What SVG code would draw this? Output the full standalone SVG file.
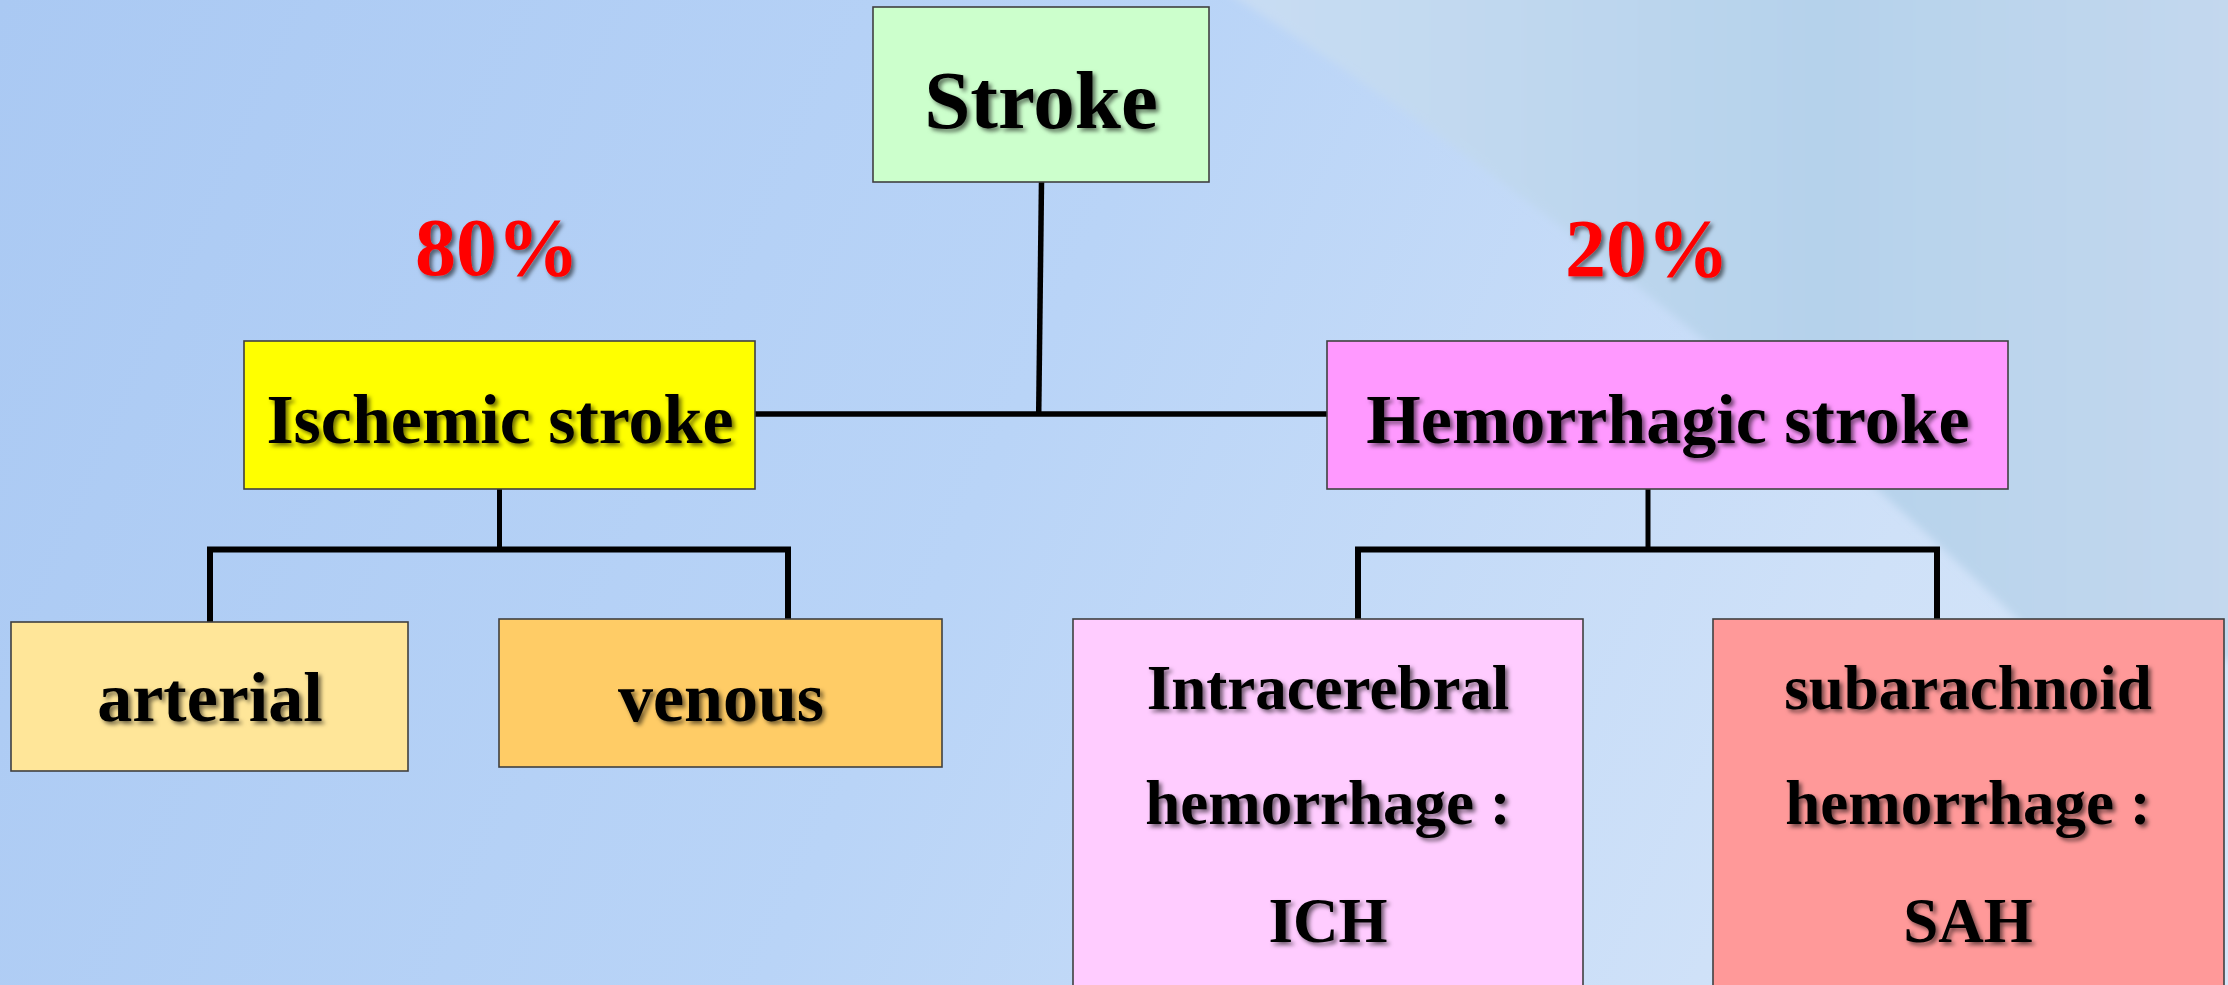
<svg xmlns="http://www.w3.org/2000/svg" width="2228" height="985" viewBox="0 0 2228 985">
  <defs>
    <linearGradient id="bg" x1="0" y1="0" x2="2228" y2="985" gradientUnits="userSpaceOnUse">
      <stop offset="0" stop-color="#aac9f3"/>
      <stop offset="0.45" stop-color="#b9d4f7"/>
      <stop offset="0.8" stop-color="#cfe1f8"/>
      <stop offset="1" stop-color="#d6e6f9"/>
    </linearGradient>
    <linearGradient id="teal" x1="1208" y1="0" x2="2228" y2="0" gradientUnits="userSpaceOnUse">
      <stop offset="0" stop-color="#c9ddf4"/>
      <stop offset="0.3" stop-color="#c0d8ef"/>
      <stop offset="0.6" stop-color="#b5d2eb"/>
      <stop offset="1" stop-color="#c3d8ee"/>
    </linearGradient>
    <filter id="soft" x="-5%" y="-5%" width="110%" height="110%">
      <feGaussianBlur stdDeviation="4"/>
    </filter>
    <filter id="sh" x="-10%" y="-20%" width="130%" height="160%">
      <feDropShadow dx="3" dy="3" stdDeviation="2" flood-color="#000" flood-opacity="0.55"/>
    </filter>
    <style>
      .box { stroke: #404040; stroke-width: 1.6; }
      .t { font-family: "Liberation Serif", "Times New Roman", serif; font-weight: bold; fill: #000; text-anchor: middle; filter: url(#sh); }
      .pct { font-family: "Liberation Serif", "Times New Roman", serif; font-weight: bold; fill: #ff0000; text-anchor: middle; font-size: 82px; filter: url(#sh); }
      .c { stroke: #000; fill: none; stroke-linecap: butt; }
    </style>
  </defs>

  <rect x="0" y="0" width="2228" height="985" fill="url(#bg)"/>
  <path d="M1208,-20 Q1650,260 2060,660 L2260,660 L2260,-20 Z" fill="url(#teal)" filter="url(#soft)"/>

  <g id="connectors">
    <line class="c" x1="1041.5" y1="182" x2="1038.7" y2="414" stroke-width="5.5"/>
    <line class="c" x1="755" y1="414" x2="1327" y2="414" stroke-width="5.5"/>
    <line class="c" x1="499.5" y1="489" x2="499.5" y2="549" stroke-width="5"/>
    <path class="c" d="M210,622 V549.5 H788 V620" stroke-width="6"/>
    <line class="c" x1="1648" y1="489" x2="1648" y2="549" stroke-width="5"/>
    <path class="c" d="M1358,621 V549.5 H1937 V620" stroke-width="6"/>
  </g>

  <g id="node-stroke">
    <rect class="box" x="873" y="7" width="336" height="175" fill="#ccffcc"/>
    <text class="t" x="1041" y="128" font-size="83">Stroke</text>
  </g>

  <g id="label-80">
    <text class="pct" x="497" y="275">80%</text>
  </g>
  <g id="label-20">
    <text class="pct" x="1647" y="276">20%</text>
  </g>

  <g id="node-ischemic">
    <rect class="box" x="244" y="341" width="511" height="148" fill="#ffff00"/>
    <text class="t" x="500" y="443" font-size="70">Ischemic stroke</text>
  </g>

  <g id="node-hemorrhagic">
    <rect class="box" x="1327" y="341" width="681" height="148" fill="#ff99ff"/>
    <text class="t" x="1668" y="443" font-size="70">Hemorrhagic stroke</text>
  </g>

  <g id="node-arterial">
    <rect class="box" x="11" y="622" width="397" height="149" fill="#ffe699"/>
    <text class="t" x="210" y="721" font-size="70">arterial</text>
  </g>

  <g id="node-venous">
    <rect class="box" x="499" y="619" width="443" height="148" fill="#ffcc66"/>
    <text class="t" x="721" y="721" font-size="70">venous</text>
  </g>

  <g id="node-ich">
    <rect class="box" x="1073" y="619" width="510" height="380" fill="#ffccff"/>
    <text class="t" x="1328" y="709" font-size="63">Intracerebral</text>
    <text class="t" x="1328" y="824" font-size="63">hemorrhage :</text>
    <text class="t" x="1328" y="942" font-size="63">ICH</text>
  </g>

  <g id="node-sah">
    <rect class="box" x="1713" y="619" width="511" height="380" fill="#ff9999"/>
    <text class="t" x="1968" y="709" font-size="63">subarachnoid</text>
    <text class="t" x="1968" y="824" font-size="63">hemorrhage :</text>
    <text class="t" x="1968" y="942" font-size="63">SAH</text>
  </g>
</svg>
